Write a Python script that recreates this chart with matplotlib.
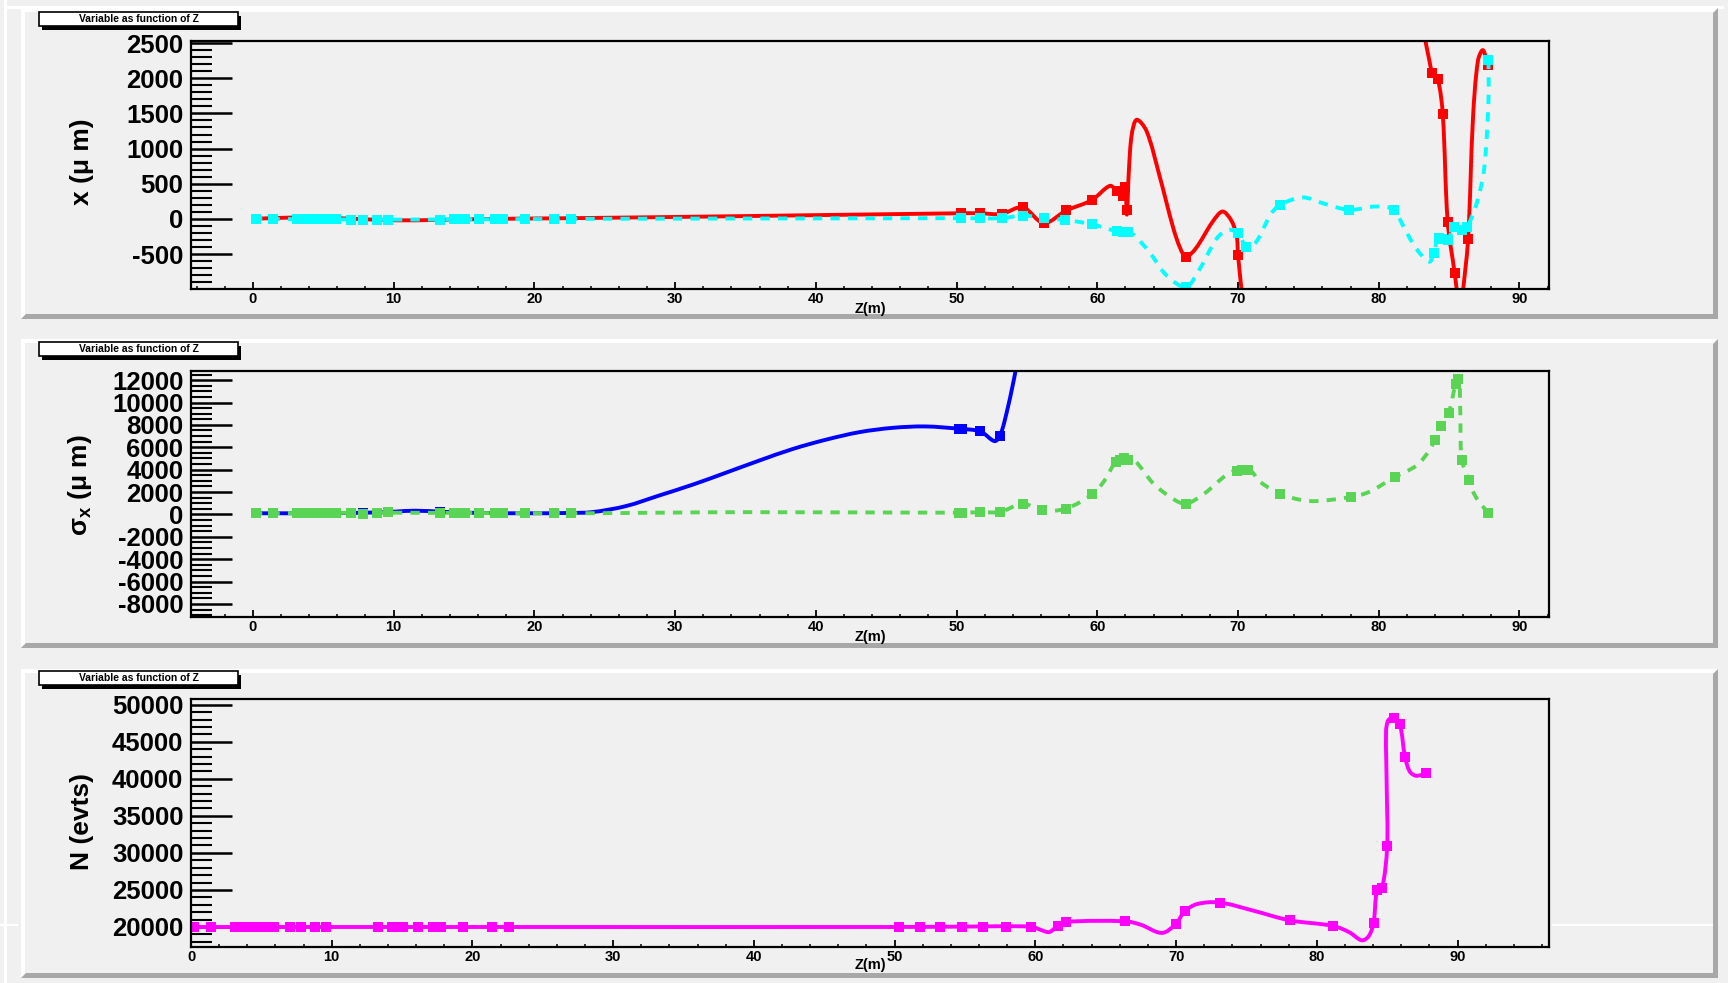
import numpy as np
import matplotlib
matplotlib.use('Agg')
import matplotlib.pyplot as plt
from matplotlib.path import Path
from matplotlib.patches import PathPatch, Rectangle, Polygon
from matplotlib.ticker import MultipleLocator, FuncFormatter

plt.rcParams['font.family'] = ['Liberation Sans', 'DejaVu Sans']
plt.rcParams['font.weight'] = 'bold'
plt.rcParams['axes.unicode_minus'] = False
plt.rcParams['mathtext.fontset'] = 'custom'
plt.rcParams['mathtext.rm'] = 'Liberation Sans:bold'
plt.rcParams['mathtext.it'] = 'Liberation Sans:bold'
plt.rcParams['mathtext.bf'] = 'Liberation Sans:bold'

W, H = 1728, 983
BG = '#f0f0f0'
nan = np.nan

# ---- data ----
# marker positions along the beam line, first stretch
Z_LEFT = [0.2, 1.4, 3.1, 3.5, 3.9, 4.3, 4.7, 5.1, 5.5, 5.9, 7.0, 7.8, 8.8, 9.6,
          13.3, 14.3, 14.7, 15.1, 16.1, 17.2, 17.8, 19.3, 21.4, 22.6]

# panel 1 : x (um)
RED_LEFT = [0, 0, -5, -5, -5, -5, -5, -5, -5, -5, -10, -10, -10, -10,
            -10, -5, -5, -5, -5, 0, 0, 0, 0, 0]
RED_RZ = [50.3, 51.7, 53.2, 54.7, 56.2, 57.8, 59.6, 61.4, 61.8, 62.0, 62.1, 66.3, 70.0,
          83.8, 84.2, 84.55, 84.9, 85.4, 86.35, 87.75]
RED_RV = [80, 80, 70, 165, -60, 120, 265, 390, 330, 460, 120, -540, -515,
          2080, 1985, 1490, -40, -775, -290, 2190]
RED_CZ = [0, 3, 6, 10, 13, 17, 22.6, 35, 50.3, 51.7, 53.2, 54.7, 56.2, 57.8, 59.6, 60.9,
          61.4, 61.8, 62.0, 62.1, 62.25, 62.45, 62.8, 63.5, 64.4, 65.4, 65.9, 66.3, 67.0,
          68.2, 68.9, 69.5, 69.9, 70.0, 70.3, nan,
          83.25, 83.6, 83.8, 84.2, 84.55, 84.9, 85.4, 85.6, nan,
          85.95, 86.35, 86.7, 87.05, 87.4, 87.75]
RED_CV = [0, 20, 10, -20, -15, 0, 10, 40, 80, 80, 70, 165, -60, 120, 265, 470,
          390, 330, 460, 60, 700, 1200, 1410, 1250, 630, -130, -420, -540, -420,
          -40, 105, -15, -230, -515, -1100, nan,
          2600, 2250, 2080, 1985, 1490, -40, -775, -1100, nan,
          -1100, -290, 1440, 2250, 2400, 2190]

CYAN_LEFT = [0, 0, -5, -5, -5, -5, -5, -5, -5, -5, -10, -10, -10, -10,
             -10, -5, -5, -5, -5, 0, 0, 0, 0, 0]
CYAN_RZ = [50.3, 51.7, 53.2, 54.7, 56.2, 57.7, 59.6, 61.4, 61.8, 62.0, 62.2, 66.3, 70.0,
           70.6, 73.0, 77.9, 81.1, 83.9, 84.25, 84.5, 84.9, 85.35, 85.95, 86.3, 87.8]
CYAN_RV = [10, 10, 10, 48, 10, -14, -76, -175, -185, -185, -190, -967, -205,
           -395, 200, 129, 129, -490, -276, -290, -300, -110, -157, -110, 2260]
CYAN_CZ = [0, 10, 22.6, 35, 50.3, 53.2, 54.7, 56.2, 57.7, 59.6, 61.4, 62.2, 62.6, 63.7,
           64.9, 66.3, 67.3, 68.5, 69.3, 70.0, 70.6, 71.3, 72.3, 73.0, 74.6, 76.0, 77.9,
           79.8, 81.1, 81.7, 82.65, 83.6, 83.9, 84.25, 84.9, 85.35, 85.95, 86.3, 87.0,
           87.5, 87.8, 87.8]
CYAN_CV = [0, -10, 0, 5, 10, 10, 48, 10, -14, -76, -175, -190, -230, -470,
           -800, -967, -705, -276, -157, -205, -395, -324, 57, 200, 305, 224, 129,
           176, 129, -86, -419, -610, -490, -276, -300, -110, -157, -110, 248,
           724, 1700, 2260]

# panel 2 : sigma_x (um)
BLUE_LEFT = [100, 100, 100, 100, 100, 100, 100, 100, 100, 100, 110, 130, 150, 200,
             200, 150, 130, 120, 100, 100, 100, 100, 100, 120]
BLUE_RZ = [50.2, 50.4, 51.7, 53.1]
BLUE_RV = [7650, 7600, 7410, 7050]
BLUE_CZ = [0, 5, 9, 11.5, 13.5, 16, 20, 22.5, 24.1, 26.5, 28.9, 31.3, 33.6, 36.0, 38.4,
           40.7, 43.1, 45.5, 47.8, 50.2, 51.7, 52.7, 53.1, 53.65, 54.2, 54.4]
BLUE_CV = [100, 110, 180, 330, 230, 130, 100, 130, 200, 740, 1700, 2680, 3720, 4820, 5860,
           6670, 7350, 7740, 7860, 7650, 7410, 6550, 7050, 9580, 12860, 14500]

GREEN_LEFT = [80, 90, 100, 100, 100, 100, 100, 100, 100, 100, 100, 50, 100, 250,
              150, 100, 100, 80, 100, 100, 100, 120, 100, 100]
GREEN_RZ = [50.2, 50.4, 51.7, 53.1, 54.7, 56.1, 57.75, 59.64, 61.35, 61.6, 61.9, 62.2,
            66.32, 69.9, 70.3, 70.7, 73.0, 78.0, 81.13, 83.97, 84.45, 84.97, 85.47,
            85.65, 85.9, 86.4, 87.76]
GREEN_RV = [150, 150, 200, 220, 950, 360, 510, 1790, 4700, 4900, 5000, 4900,
            950, 3900, 4000, 4000, 1850, 1550, 3330, 6610, 7860, 9050, 11670,
            12100, 4880, 3040, 150]
GREEN_CZ = [0, 10, 22.6, 35, 50.2, 51.7, 53.1, 54.7, 56.1, 57.75, 59.64, 60.5, 61.35, 62.0,
            62.6, 64.0, 65.5, 66.32, 67.6, 69.3, 70.3, 70.9, 71.6, 73.0, 74.4, 75.6, 78.0,
            79.3, 81.13, 82.7, 83.6, 83.97, 84.45, 84.97, 85.47, 85.7, 85.8, 85.82, 85.9,
            86.4, 86.9, 87.76]
GREEN_CV = [100, 150, 100, 200, 150, 200, 220, 950, 360, 510, 1790, 3000, 4750, 5060,
            4900, 2740, 1300, 950, 1850, 3630, 4000, 3900, 2880, 1850, 1310, 1190, 1550,
            2000, 3330, 4380, 5720, 6610, 7860, 9050, 11670, 12300, 9000, 6600, 4880,
            3040, 1550, 150]

# panel 3 : N (evts)
MAG_LEFT = [20000] * len(Z_LEFT)
MAG_RZ = [50.3, 51.8, 53.2, 54.8, 56.3, 57.9, 59.7, 61.6, 62.2, 66.4, 70.0, 70.6, 73.1,
          78.07, 81.15, 84.04, 84.28, 84.64, 85.0, 85.47, 85.9, 86.27, 87.77]
MAG_RV = [20000, 20000, 20000, 20050, 20050, 20050, 20050, 20200, 20700, 20770, 20450,
          22100, 23300, 20900, 20150, 20600, 25000, 25240, 30900, 48150, 47330, 42940,
          40760]
MAG_CZ = [0, 22.6, 50.3, 54.8, 59.7, 60.4, 61.0, 61.6, 62.2, 66.4, 67.5, 69.0, 70.0, 70.6,
          71.5, 73.1, 75.5, 78.07, 81.15, 82.3, 83.2, 83.7, 84.04, 84.28, 84.64, 85.0,
          84.97, 84.92, 85.05, 85.3, 85.47, 85.9, 86.27, 86.6, 87.0, 87.4, 87.77]
MAG_CV = [20000, 20000, 20000, 20050, 20050, 19600, 19320, 20200, 20700, 20770, 20300,
          19200, 20450, 22100, 23100, 23300, 22200, 20900, 20150, 19300, 18200, 18800,
          20600, 25000, 25240, 30900, 38600, 46400, 47800, 48250, 48150, 47330, 42940,
          41000, 40430, 40500, 40760]

TITLE = 'Variable as function of Z'


fig = plt.figure(figsize=(W / 100, H / 100), dpi=100)
fig.patch.set_facecolor(BG)


def fig_rect(x0, y0, x1, y1, zorder=-5, **kw):
    fig.add_artist(Rectangle((x0 / W, 1 - y1 / H), (x1 - x0) / W, (y1 - y0) / H,
                             transform=fig.transFigure, zorder=zorder, **kw))


def fig_poly(pts, zorder=-5, **kw):
    fig.add_artist(Polygon([(x / W, 1 - y / H) for x, y in pts], closed=True,
                           transform=fig.transFigure, zorder=zorder, **kw))


def draw_pad(top, bottom, left=21, right=1718, t=4, s=5):
    fig_rect(left, top, right, bottom, facecolor=BG, edgecolor='none')
    fig_poly([(left, top), (right, top), (right - t, top + t), (left + t, top + t),
              (left + t, bottom - t), (left, bottom)], facecolor='white', edgecolor='none')
    fig_poly([(right, top), (right, bottom), (left, bottom), (left + s, bottom - s),
              (right - s, bottom - s), (right - s, top + s)],
             facecolor='#a8a8a8', edgecolor='none')


def title_box(top):
    x0, x1, y0, y1 = 39, 238, top, top + 14
    fig_rect(x0 + 3, y0 + 4, x1 + 3, y1 + 4, zorder=5, facecolor='black', edgecolor='none')
    fig_rect(x0, y0, x1, y1, zorder=5, facecolor='white', edgecolor='black', linewidth=1.2)
    fig.text((x0 + x1) / 2 / W, 1 - (y0 + y1) / 2 / H, TITLE, fontsize=7.5,
             fontweight='bold', ha='center', va='center', zorder=6)


def axes_at(top, bottom, left=191, right=1549):
    return fig.add_axes([left / W, 1 - bottom / H, (right - left) / W, (bottom - top) / H])


def smooth_curve(ax, z, v, **kw):
    # smooth line through the read points, like ROOT's "C" option
    z = np.asarray(z, float)
    v = np.asarray(v, float)
    x0, x1 = ax.get_xlim()
    y0, y1 = ax.get_ylim()
    bb = ax.get_position()
    sx = bb.width * W / (x1 - x0)
    sy = bb.height * H / (y1 - y0)
    breaks = np.where(np.isnan(z))[0]
    for seg in np.split(np.arange(len(z)), breaks):
        seg = seg[~np.isnan(z[seg])]
        if len(seg) < 2:
            continue
        p = np.column_stack([z[seg] * sx, v[seg] * sy])
        d = np.maximum(np.hypot(*np.diff(p, axis=0).T), 1e-9)
        t = np.concatenate([[0], np.cumsum(d)])
        n = len(p)
        m = np.zeros_like(p)
        for i in range(n):
            a, b = max(i - 1, 0), min(i + 1, n - 1)
            m[i] = (p[b] - p[a]) / (t[b] - t[a])
        verts = [p[0]]
        codes = [Path.MOVETO]
        for i in range(n - 1):
            h = t[i + 1] - t[i]
            verts += [p[i] + m[i] * h / 3, p[i + 1] - m[i + 1] * h / 3, p[i + 1]]
            codes += [Path.CURVE4] * 3
        verts = np.array(verts) / [sx, sy]
        ax.add_patch(PathPatch(Path(verts, codes), fill=False, **kw))


def style_axes(ax, xlim, ylim, ymaj, ymin):
    ax.set_facecolor(BG)
    ax.set_xlim(*xlim)
    ax.set_ylim(*ylim)
    ax.xaxis.set_major_locator(MultipleLocator(10))
    ax.xaxis.set_minor_locator(MultipleLocator(2))
    ax.yaxis.set_major_locator(MultipleLocator(ymaj))
    ax.yaxis.set_minor_locator(MultipleLocator(ymin))
    fmt = FuncFormatter(lambda val, _: f'{val:.0f}')
    ax.xaxis.set_major_formatter(fmt)
    ax.yaxis.set_major_formatter(fmt)
    ax.tick_params(axis='y', which='major', direction='in', length=29.5, width=1.8,
                   labelsize=18.5, pad=5.5)
    ax.tick_params(axis='y', which='minor', direction='in', length=15, width=1.5)
    ax.tick_params(axis='x', which='major', direction='in', length=5, width=1.3,
                   labelsize=10.5, pad=2.5)
    ax.tick_params(axis='x', which='minor', direction='in', length=2.5, width=1.1)
    for sp in ax.spines.values():
        sp.set_linewidth(1.6)
    for lab in ax.get_xticklabels() + ax.get_yticklabels():
        lab.set_fontweight('bold')


def draw_series(ax, cz, cv, mz, mv, color, dashed, zo):
    ls = (0, (2.4, 2.1)) if dashed else '-'
    smooth_curve(ax, cz, cv, edgecolor=color, linewidth=2.8, linestyle=ls,
                 capstyle='butt', joinstyle='round', zorder=zo)
    ax.plot(mz, mv, ls='none', marker='s', markersize=6.6, markeredgewidth=0,
            color=color, zorder=zo + 0.1)


# canvas and pads
fig_rect(4, 0, 7, H, facecolor='white', edgecolor='none')
fig_rect(4, 6, W - 4, 9, facecolor='white', edgecolor='none')
draw_pad(8, 319)
draw_pad(339, 648)
draw_pad(669, 978)
fig_rect(0, 924, 18, 925.5, facecolor='white', edgecolor='none')
fig_rect(1552, 924, 1713, 925.5, facecolor='white', edgecolor='none')

# panel 1
ax1 = axes_at(41, 288.5)
style_axes(ax1, (-4.4, 92.1), (-990, 2530), 500, 100)
draw_series(ax1, RED_CZ, RED_CV, Z_LEFT + RED_RZ, RED_LEFT + RED_RV, '#ff0000', False, 2)
draw_series(ax1, CYAN_CZ, CYAN_CV, Z_LEFT + CYAN_RZ, CYAN_LEFT + CYAN_RV, '#00ffff', True, 2.2)

# panel 2
ax2 = axes_at(370.5, 617)
style_axes(ax2, (-4.4, 92.1), (-9170, 12860), 2000, 500)
draw_series(ax2, BLUE_CZ, BLUE_CV, Z_LEFT + BLUE_RZ, BLUE_LEFT + BLUE_RV, '#0000ff', False, 2)
draw_series(ax2, GREEN_CZ, GREEN_CV, Z_LEFT + GREEN_RZ, GREEN_LEFT + GREEN_RV, '#59d454', True, 2.2)

# panel 3
ax3 = axes_at(699, 947)
style_axes(ax3, (0, 96.5), (17300, 50770), 5000, 1000)
draw_series(ax3, MAG_CZ, MAG_CV, Z_LEFT + MAG_RZ, MAG_LEFT + MAG_RV, '#ff00ff', False, 2)

# titles and axis labels
for top in (12, 342, 671):
    title_box(top)
for yc in (308.6, 637, 965.5):
    fig.text(870 / W, 1 - yc / H, 'Z(m)', fontsize=10.5, fontweight='bold',
             ha='center', va='center')

fig.text(81.5 / W, 1 - 162 / H, 'x (μ m)', fontsize=19, fontweight='bold',
         rotation=90, ha='center', va='center')
fig.text(80 / W, 1 - 485 / H, r'σ$_{x}$ (μ m)', fontsize=19, fontweight='bold',
         rotation=90, ha='center', va='center')
fig.text(82 / W, 1 - 821 / H, 'N (evts)', fontsize=19, fontweight='bold',
         rotation=90, ha='center', va='center')

fig.savefig('out.png', dpi=100, facecolor=fig.get_facecolor())
